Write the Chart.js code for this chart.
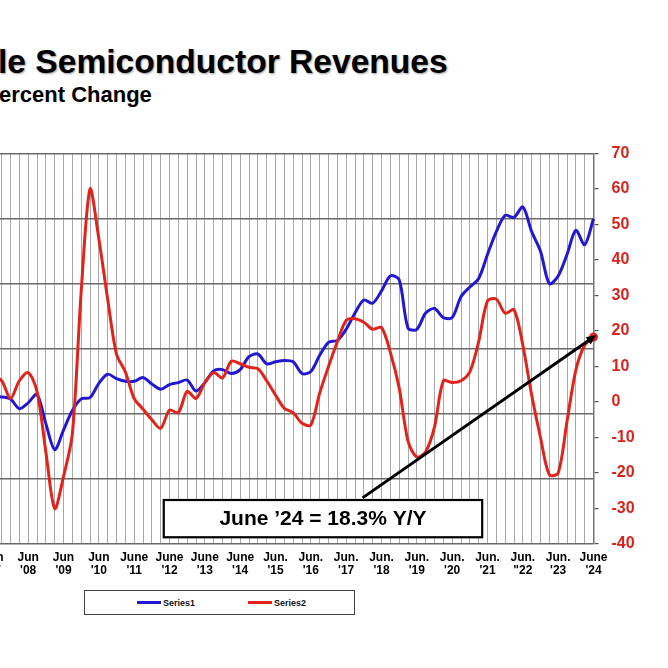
<!DOCTYPE html>
<html>
<head>
<meta charset="utf-8">
<script src="https://cdn.jsdelivr.net/npm/chart.js@4.4.1/dist/chart.umd.min.js"></script>
<style>
  html, body { margin: 0; padding: 0; background: #fff; overflow: hidden; }
  body { width: 668px; height: 668px; position: relative; font-family: "Liberation Sans", Arial, sans-serif; }
  .title { position: absolute; left: -2px; top: 45px; font-size: 33.6px; line-height: 33px; font-weight: bold; color: #000; white-space: nowrap; text-shadow: 1px 1px 2px #999; }
  .subtitle { position: absolute; left: -1px; top: 84px; font-size: 22px; line-height: 21.5px; font-weight: bold; color: #000; white-space: nowrap; }
  #wrap { position: absolute; left: -23.5px; top: 131px; width: 676.5px; height: 453px; }
  #legend { position: absolute; left: 84px; top: 590px; width: 269px; height: 23px; border: 1px solid #444; }
  #legend .item { position: absolute; top: 7px; font-size: 9px; font-weight: bold; color: #111; line-height: 10px; white-space: nowrap; }
  #legend .item span { display: inline-block; width: 24px; height: 3px; vertical-align: middle; margin-right: 2px; position: relative; top: -1px; }
</style>
</head>
<body>
<div class="title">le Semiconductor Revenues</div>
<div class="subtitle">ercent Change</div>
<div id="wrap"><canvas id="chart"></canvas></div>
<div id="legend"></div>
<script>
// квартальные точки, март '07 - июнь '24
const quarters = [
  'Mar 07','Jun 07','Sep 07','Dec 07','Mar 08','Jun 08','Sep 08','Dec 08',
  'Mar 09','Jun 09','Sep 09','Dec 09','Mar 10','Jun 10','Sep 10','Dec 10',
  'Mar 11','Jun 11','Sep 11','Dec 11','Mar 12','Jun 12','Sep 12','Dec 12',
  'Mar 13','Jun 13','Sep 13','Dec 13','Mar 14','Jun 14','Sep 14','Dec 14',
  'Mar 15','Jun 15','Sep 15','Dec 15','Mar 16','Jun 16','Sep 16','Dec 16',
  'Mar 17','Jun 17','Sep 17','Dec 17','Mar 18','Jun 18','Sep 18','Dec 18',
  'Mar 19','Jun 19','Sep 19','Dec 19','Mar 20','Jun 20','Sep 20','Dec 20',
  'Mar 21','Jun 21','Sep 21','Dec 21','Mar 22','Jun 22','Sep 22','Dec 22',
  'Mar 23','Jun 23','Sep 23','Dec 23','Mar 24','Jun 24'
];

// подписи оси X (только июнь)
const juneTop = ['Jun','Jun','Jun','Jun','June','June','June','June','Jun.','Jun.',
                 'Jun.','Jun.','Jun.','Jun.','Jun.','Jun.','Jun.','June'];
const juneBottom = ["'07","'08","'09","'10","'11","'12","'13","'14","'15","'16",
                    "'17","'18","'19","'20","'21",'"22',"'23","'24"];

// Series1 - левая ось (скрыта), Series2 - правая ось, %
const series1 = [
  22.0, 22.5, 22.6, 22.3, 20.8, 21.7, 23.0, 18.5, 14.5, 17.5, 20.5, 22.3,
  22.5, 24.7, 26.1, 25.4, 25.0, 25.0, 25.6, 24.6, 23.8, 24.5, 24.8, 25.2,
  23.5, 24.8, 26.6, 26.8, 26.2, 26.8, 28.8, 29.2, 27.7, 28.0, 28.2, 28.0,
  26.2, 26.5, 29.0, 31.0, 31.3, 33.0, 35.5, 37.5, 37.0, 38.9, 41.2, 40.6,
  33.2, 33.0, 35.5, 36.2, 34.8, 34.8, 38.0, 39.5, 40.8, 44.5, 48.0, 50.5,
  50.2, 51.8, 48.0, 45.0, 40.0, 41.2, 44.5, 48.2, 46.0, 50.0
];
const series2 = [
  4.0, 7.0, 6.0, 1.0, 6.0, 8.3, 3.0, -14.0, -30.0, -21.0, -9.0, 31.0,
  60.0, 46.0, 29.0, 13.5, 8.5, 1.0, -2.0, -5.0, -7.4, -2.3, -3.0, 3.0,
  1.0, 5.5, 8.3, 6.8, 11.5, 10.8, 9.8, 9.4, 6.0, 2.0, -1.8, -3.0,
  -6.0, -6.5, 2.5, 10.0, 17.0, 23.0, 23.5, 22.5, 20.5, 21.0, 14.0, 4.0,
  -11.0, -15.5, -14.0, -7.0, 6.0, 5.5, 6.0, 8.5, 17.0, 28.5, 29.0, 25.0,
  26.0, 16.0, 2.0, -10.0, -20.5, -20.0, -5.5, 9.0, 16.0, 18.3
];

// рамка с подписью и стрелка (в единицах осей)
const noteText = 'June \u201924 = 18.3% Y/Y';
const noteBox = { from: 20.35, to: 56.4, top: -27.6, bottom: -38.1 };
const arrowStart = { x: 42.85, y: -27 };

const tickFor = (i) => {
  const q = quarters[i];
  if (!q.startsWith('Jun')) return '';
  const k = parseInt(q.slice(4), 10) - 7;
  return [juneTop[k], juneBottom[k]];
};

const notePlugin = {
  id: 'note',
  afterDatasetsDraw(chart) {
    const { ctx } = chart;
    const x = chart.scales.x, y = chart.scales.yR;
    ctx.save();
    // рамка
    const bx1 = x.getPixelForValue(noteBox.from), bx2 = x.getPixelForValue(noteBox.to);
    const by1 = y.getPixelForValue(noteBox.top), by2 = y.getPixelForValue(noteBox.bottom);
    ctx.fillStyle = '#fff';
    ctx.fillRect(bx1, by1, bx2 - bx1, by2 - by1);
    ctx.lineWidth = 2.2;
    ctx.strokeStyle = '#000';
    ctx.strokeRect(bx1, by1, bx2 - bx1, by2 - by1);
    ctx.fillStyle = '#000';
    ctx.font = 'bold 21px "Liberation Sans", Arial, sans-serif';
    ctx.textAlign = 'center';
    ctx.textBaseline = 'middle';
    ctx.fillText(noteText, (bx1 + bx2) / 2, (by1 + by2) / 2 + 1);
    // стрелка к последней точке
    const last = series2.length - 1;
    const ax = x.getPixelForValue(arrowStart.x), ay = y.getPixelForValue(arrowStart.y);
    const tx = x.getPixelForValue(last) + 3, ty = y.getPixelForValue(series2[last]) - 2;
    const ang = Math.atan2(ty - ay, tx - ax);
    ctx.lineWidth = 3;
    ctx.beginPath();
    ctx.moveTo(ax, ay);
    ctx.lineTo(tx - 7 * Math.cos(ang), ty - 7 * Math.sin(ang));
    ctx.stroke();
    ctx.beginPath();
    ctx.moveTo(tx, ty);
    ctx.lineTo(tx - 11 * Math.cos(ang - 0.4), ty - 11 * Math.sin(ang - 0.4));
    ctx.lineTo(tx - 11 * Math.cos(ang + 0.4), ty - 11 * Math.sin(ang + 0.4));
    ctx.closePath();
    ctx.fill();
    ctx.restore();
  }
};

Chart.defaults.font.family = '"Liberation Sans", Arial, sans-serif';

const chart = new Chart(document.getElementById('chart'), {
  type: 'line',
  data: {
    labels: quarters,
    datasets: [
      {
        label: 'Series1',
        data: series1,
        yAxisID: 'yL',
        borderColor: '#2318d2',
        backgroundColor: '#2318d2',
        borderWidth: 3,
        pointRadius: 0,
        tension: 0.3,
        order: 1
      },
      {
        label: 'Series2',
        data: series2,
        yAxisID: 'yR',
        borderColor: '#e0231b',
        backgroundColor: '#e0231b',
        borderWidth: 3,
        pointRadius: (c) => c.dataIndex === series2.length - 1 ? 3 : 0,
        tension: 0.3,
        order: 0
      }
    ]
  },
  options: {
    responsive: true,
    maintainAspectRatio: false,
    animation: false,
    layout: { padding: { top: 4, left: 0, right: 0, bottom: 0 } },
    plugins: {
      legend: { display: false },
      title: { display: false },
      tooltip: { enabled: false }
    },
    scales: {
      x: {
        offset: false,
        grid: { color: '#a8a8a8', lineWidth: 1, drawTicks: false },
        border: { display: false },
        ticks: {
          autoSkip: false,
          maxRotation: 0,
          minRotation: 0,
          padding: 7,
          color: '#000',
          font: { size: 12, weight: 'bold', lineHeight: 1.1 },
          callback: (v, i) => tickFor(i)
        },
        afterFit: (s) => { s.height = 40; }
      },
      yL: {
        position: 'left',
        min: 0,
        max: 60,
        ticks: { display: false, stepSize: 10 },
        grid: { color: '#6a6a6a', lineWidth: 1.5, drawTicks: false },
        border: { display: false },
        afterFit: (s) => { s.width = 0; }
      },
      yR: {
        position: 'right',
        min: -40,
        max: 70,
        ticks: {
          stepSize: 10,
          padding: 13,
          color: '#d8231c',
          font: { size: 16, weight: 'bold' }
        },
        grid: { drawOnChartArea: false, tickLength: 5, color: '#555', lineWidth: 1.2 },
        border: { display: true, color: '#777', width: 1.5 },
        afterFit: (s) => { s.width = 60; }
      }
    }
  },
  plugins: [notePlugin]
});

// легенда в рамке
const pos = [52, 163];
document.getElementById('legend').innerHTML = chart.data.datasets.map((d, i) =>
  '<div class="item" style="left:' + pos[i] + 'px"><span style="background:' + d.borderColor + '"></span>' + d.label + '</div>'
).join('');
</script>
</body>
</html>
